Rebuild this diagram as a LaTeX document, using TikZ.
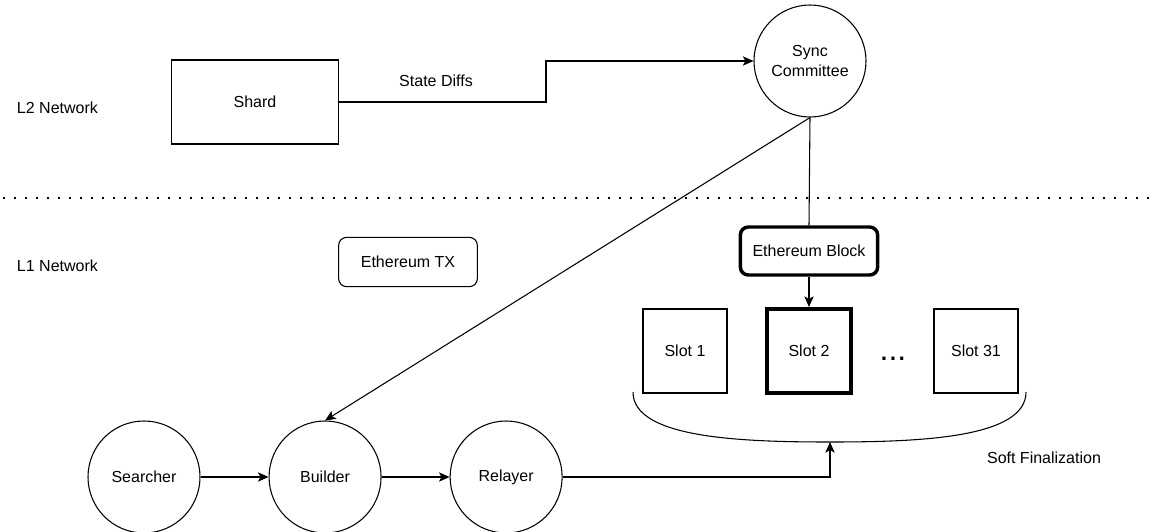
\documentclass[tikz,border=0pt]{standalone}
\usepackage{fontspec}
\setmainfont{Liberation Sans}
\usetikzlibrary{arrows.meta,positioning}

\tikzset{
  shardbox/.style={draw, minimum width=125pt, minimum height=63pt, inner sep=0pt},
  peer/.style={draw, circle, minimum size=84pt, inner sep=0pt, align=center},
  txbox/.style={draw, rounded corners=6pt, minimum width=104pt, minimum height=37pt},
  blockbox/.style={draw, line width=2.6pt, rounded corners=6pt, minimum width=103pt, minimum height=36pt},
  slotbox/.style={draw, minimum size=63pt, inner sep=0pt},
  divider/.style={line width=2pt, dash pattern=on 1.5pt off 6.75pt}
}

\begin{document}
\begin{tikzpicture}[x=0.75pt,y=-0.75pt,line width=0.8pt,
  >={Stealth[length=8pt,width=7pt,inset=2pt]},
  every node/.style={font=\fontsize{12}{15}\selectfont}]
\useasboundingbox (0,0) rectangle (1154,532);

% L2 NETWORK
\node[anchor=west] (l2) at (12,108) {L2 Network};
\node[shardbox] (shard) at (255,102) {Shard};
\node[peer] (sync) at (810,61) {Sync\\Committee};
\coordinate (bend) at (546,102);
\draw[->] (shard.east) -- (bend) |- (sync.west);
\node (diffs) at (436,81) {State Diffs};

% DIVIDER
\coordinate (divl) at (3,198);
\coordinate (divr) at (1154,198);
\draw[divider] (divl) -- (divr);

% L1 NETWORK
\node[anchor=west] (l1) at (12,266) {L1 Network};
\node[txbox] (tx) at (408,262) {Ethereum TX};
\node[blockbox] (block) at (809,251) {Ethereum Block};
\draw (sync.south) -- (block.north);

% SLOTS
\node[slotbox] (slot1) at (685,351) {Slot 1};
\node[slotbox, line width=3pt] (slot2) at (809,351) {Slot 2};
\node[anchor=base, font=\fontsize{24}{28}\selectfont] (dots) at (893,360) {...};
\node[slotbox] (slot31) at (976,351) {Slot 31};
\draw[->] (block.south) -- (slot2.north);

% SOFT FINALIZATION
\coordinate (bl) at (633,392);
\coordinate (soft) at (830,442);
\coordinate (br) at (1026,392);
\draw (bl) .. controls (633,438) and (740,442) .. (soft)
  .. controls (920,442) and (1026,438) .. (br);
\node (final) at (1044,458) {Soft Finalization};

% BLOCK BUILDING
\node[peer] (searcher) at (144,477) {Searcher};
\node[peer, right=51pt of searcher] (builder) {Builder};
\node[peer, right=51pt of builder] (relayer) {Relayer};
\draw[->] (searcher) -- (builder);
\draw[->] (builder) -- (relayer);
\draw[->] (relayer.east) -| (soft);
\draw[->] (sync.south) -- (builder.north);

\end{tikzpicture}
\end{document}
